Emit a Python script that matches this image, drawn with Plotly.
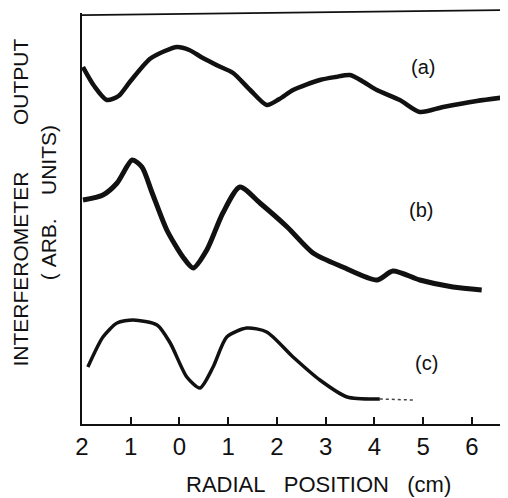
import plotly.graph_objects as go

# Radial position (cm) control points; y in arbitrary units
xa = [-1.98, -1.75, -1.49, -1.25, -1.02, -0.61, -0.30, -0.05, 0.20, 0.48, 0.80, 1.10, 1.45, 1.79, 2.05, 2.33, 2.88, 3.20, 3.50, 3.78, 4.05, 4.52, 4.93, 5.41, 6.10, 6.72]
ya = [357, 338, 324, 328, 342, 365, 373, 377, 374, 366, 358, 351, 334, 319, 325, 334, 344, 347, 349, 342, 334, 324, 312, 317, 323, 327]

xb = [-1.98, -1.57, -1.28, -0.97, -0.77, -0.56, -0.26, 0.07, 0.28, 0.56, 0.89, 1.24, 1.65, 2.21, 2.74, 3.35, 4.05, 4.38, 4.93, 5.61, 6.20]
yb = [224, 229, 241, 264, 257, 231, 194, 167, 156, 174, 211, 237, 221, 197, 171, 157, 144, 153, 144, 137, 134]

xc = [-1.88, -1.57, -1.28, -0.95, -0.46, -0.19, 0.15, 0.42, 0.69, 0.97, 1.38, 1.79, 2.33, 2.88, 3.44, 4.11]
yc = [57, 87, 101, 104, 99, 81, 47, 36, 57, 87, 96, 92, 67, 44, 27, 25]
xc_tail = [4.11, 4.79]
yc_tail = [25, 24]

tick_vals = [-2, -1, 0, 1, 2, 3, 4, 5, 6]
tick_text = ["2", "1", "0", "1", "2", "3", "4", "5", "6"]

trace_labels = ["(a)", "(b)", "(c)"]
label_x = [5.0, 4.95, 5.07]
label_y = [357, 214, 61]

FONT = "Liberation Sans, Arial, sans-serif"
INK = "#111111"
NB = "\u00a0"

fig = go.Figure()
for xs, ys, w in [(xa, ya, 4.5), (xb, yb, 5), (xc, yc, 3.5)]:
    fig.add_trace(go.Scatter(x=xs, y=ys, mode="lines",
                             line=dict(color=INK, width=w, shape="spline", smoothing=0.7),
                             showlegend=False, hoverinfo="skip"))
fig.add_trace(go.Scatter(x=xc_tail, y=yc_tail, mode="lines",
                         line=dict(color="#444444", width=1.5, dash="dot"),
                         showlegend=False, hoverinfo="skip"))

for t, lx, ly in zip(trace_labels, label_x, label_y):
    fig.add_annotation(x=lx, y=ly, text=t, showarrow=False,
                       font=dict(family=FONT, size=20, color=INK))

fig.add_annotation(xref="paper", yref="paper", x=0.554, y=-0.147, yanchor="middle",
                   text="RADIAL" + NB * 3 + "POSITION" + NB * 3 + "(cm)",
                   showarrow=False, font=dict(family=FONT, size=22, color=INK))
fig.add_annotation(xref="paper", yref="paper", x=-0.1115, y=0.5377, textangle=-90,
                   xanchor="center", yanchor="middle",
                   text="INTERFEROMETER" + NB * 8 + "OUTPUT<br>(" + NB + "ARB." + NB * 4 + "UNITS)",
                   showarrow=False, font=dict(family=FONT, size=21, color=INK))

# top border line (slightly tilted, as in the scan)
fig.add_shape(type="line", xref="paper", yref="paper", x0=0, y0=0.995, x1=1, y1=1.007,
              line=dict(color=INK, width=1.8))

fig.update_layout(
    width=500, height=490,
    margin=dict(l=74, r=0, t=5, b=74),
    paper_bgcolor="white", plot_bgcolor="white",
    xaxis=dict(range=[-2, 6.74], tickvals=tick_vals, ticktext=tick_text,
               ticks="inside", ticklen=7, tickwidth=1.5, tickcolor=INK,
               showline=True, linewidth=2, linecolor=INK, showgrid=False, zeroline=False,
               tickfont=dict(family=FONT, size=24, color=INK)),
    yaxis=dict(range=[0, 411], showline=True, linewidth=2, linecolor=INK,
               showticklabels=False, ticks="", showgrid=False, zeroline=False),
)

fig.write_html("out.html")
